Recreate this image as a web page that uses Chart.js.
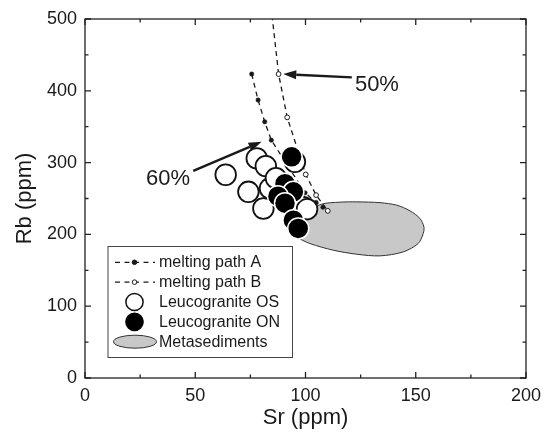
<!DOCTYPE html>
<html>
<head>
<meta charset="utf-8">
<script src="https://cdn.jsdelivr.net/npm/chart.js@4.4.1/dist/chart.umd.min.js"></script>
<style>
  html, body { margin: 0; padding: 0; background: #fff; }
  canvas { display: block; }
</style>
</head>
<body>
<canvas id="chart" width="545" height="439"></canvas>
<script>
// Sr (x) and Rb (y) values, ppm
const pathASr = [75.6, 78.5, 81.5, 84.5, 99.8, 104.8, 107.9];
const pathARb = [423.3, 387.1, 356.8, 331.3, 257.9, 244.5, 237.9];

const pathBSr = [83.0, 87.8, 91.7, 100.1, 104.8, 110.1];
const pathBRb = [555, 423.3, 363.0, 283.5, 254.7, 232.8];

const osSr = [63.8, 77.9, 82.0, 74.1, 80.9, 83.9, 86.6, 95.2, 96.7, 98.9, 100.7];
const osRb = [283.1, 305.8, 295.1, 259.3, 236.1, 264.0, 278.4, 301.1, 240.7, 237.9, 235.1];

const onSr = [93.7, 90.7, 94.5, 87.5, 90.7, 94.5, 96.7];
const onRb = [308.1, 270.7, 259.3, 253.3, 243.5, 219.8, 208.3];

// outline of the metasediment field
const metaSr = [96.1, 101.1, 107.3, 115.6, 123.2, 133.8, 141.4, 147.4, 151.9, 153.7, 153.4, 151.1, 144.3, 133.8, 123.2, 112.6, 102.0, 96.0, 93.0];
const metaRb = [211.4, 230.9, 242.1, 244.9, 245.3, 244.2, 240.7, 232.8, 222.2, 210.5, 201.3, 187.3, 175.6, 170.1, 172.4, 178.0, 187.3, 196.5, 205.9];

const xTicks = [0, 50, 100, 150, 200];
const yTicks = [0, 100, 200, 300, 400, 500];

// degree-of-melting labels with their arrows (data units)
const noteText = ['50%', '60%'];
const noteFrom = [[121.0, 418.7], [49.1, 288.5]];
const noteTo = [[89.9, 423.3], [80.1, 329.0]];
const noteAt = [[122.4, 408.0], [47.6, 277.0]];
const noteAlign = ['left', 'right'];

const FONT = '"Liberation Sans", Arial, Helvetica, sans-serif';
const INK = '#1a1a1a';

const zip = (xs, ys) => xs.map((v, i) => ({ x: v, y: ys[i] }));
const closed = (pts) => pts.concat([pts[0]]);

const frameTicks = {
  id: 'frameTicks',
  afterDatasetsDraw(chart) {
    const { ctx, chartArea: a, scales: { x, y } } = chart;
    ctx.save();
    ctx.strokeStyle = '#222';
    ctx.lineWidth = 1.3;
    ctx.strokeRect(a.left, a.top, a.right - a.left, a.bottom - a.top);
    const major = 6, minor = 3.5;
    const xs = [];
    xTicks.forEach((v, i) => {
      xs.push([v, major]);
      if (i < xTicks.length - 1) xs.push([(v + xTicks[i + 1]) / 2, minor]);
    });
    const ys = [];
    yTicks.forEach((v, i) => {
      ys.push([v, major]);
      if (i < yTicks.length - 1) ys.push([(v + yTicks[i + 1]) / 2, minor]);
    });
    ctx.beginPath();
    xs.forEach(([v, len]) => {
      const p = x.getPixelForValue(v);
      ctx.moveTo(p, a.bottom); ctx.lineTo(p, a.bottom - len);
      ctx.moveTo(p, a.top); ctx.lineTo(p, a.top + len);
    });
    ys.forEach(([v, len]) => {
      const p = y.getPixelForValue(v);
      ctx.moveTo(a.left, p); ctx.lineTo(a.left + len, p);
      ctx.moveTo(a.right, p); ctx.lineTo(a.right - len, p);
    });
    ctx.stroke();
    ctx.restore();
  }
};

const notes = {
  id: 'notes',
  afterDatasetsDraw(chart) {
    const { ctx, scales: { x, y } } = chart;
    ctx.save();
    ctx.strokeStyle = INK;
    ctx.fillStyle = INK;
    noteText.forEach((t, i) => {
      const x0 = x.getPixelForValue(noteFrom[i][0]), y0 = y.getPixelForValue(noteFrom[i][1]);
      const x1 = x.getPixelForValue(noteTo[i][0]), y1 = y.getPixelForValue(noteTo[i][1]);
      const ang = Math.atan2(y1 - y0, x1 - x0);
      const headLen = 13, headHalf = 4.5;
      const bx = x1 - headLen * Math.cos(ang), by = y1 - headLen * Math.sin(ang);
      ctx.lineWidth = 2.4;
      ctx.beginPath();
      ctx.moveTo(x0, y0); ctx.lineTo(bx, by);
      ctx.stroke();
      ctx.beginPath();
      ctx.moveTo(x1, y1);
      ctx.lineTo(bx + headHalf * Math.sin(ang), by - headHalf * Math.cos(ang));
      ctx.lineTo(bx - headHalf * Math.sin(ang), by + headHalf * Math.cos(ang));
      ctx.closePath();
      ctx.fill();
      ctx.font = '22px ' + FONT;
      ctx.textAlign = noteAlign[i];
      ctx.textBaseline = 'middle';
      ctx.fillText(t, x.getPixelForValue(noteAt[i][0]), y.getPixelForValue(noteAt[i][1]));
    });
    ctx.restore();
  }
};

const keyBox = {
  id: 'keyBox',
  afterDatasetsDraw(chart) {
    const { ctx, chartArea: a } = chart;
    const left = a.left + 22.5, top = a.top + 227, w = 184.5, h = 111;
    ctx.save();
    ctx.fillStyle = '#fff';
    ctx.fillRect(left, top, w, h);
    ctx.strokeStyle = '#444';
    ctx.lineWidth = 1;
    ctx.strokeRect(left + 0.5, top + 0.5, w, h);
    const cx = left + 27, tx = left + 51.5;
    chart.data.datasets.forEach((ds, i) => {
      const cy = top + 16.3 + i * 19.85;
      ctx.save();
      if (ds.key === 'path') {
        ctx.strokeStyle = ds.borderColor;
        ctx.lineWidth = ds.borderWidth;
        ctx.setLineDash([5, 4.5]);
        ctx.beginPath();
        ctx.moveTo(left + 7.5, cy); ctx.lineTo(left + 47.5, cy);
        ctx.stroke();
        ctx.setLineDash([]);
        ctx.beginPath();
        ctx.arc(cx, cy, 2.3, 0, Math.PI * 2);
        ctx.fillStyle = ds.pointBackgroundColor;
        ctx.fill();
        ctx.lineWidth = 1;
        ctx.strokeStyle = ds.pointBorderColor;
        ctx.stroke();
      } else if (ds.key === 'dot') {
        ctx.beginPath();
        ctx.arc(cx, cy, 8.6, 0, Math.PI * 2);
        ctx.fillStyle = ds.pointBackgroundColor;
        ctx.fill();
        ctx.lineWidth = 1.5;
        ctx.strokeStyle = ds.pointBackgroundColor === '#000' ? '#000' : ds.pointBorderColor;
        ctx.stroke();
      } else {
        ctx.beginPath();
        ctx.ellipse(cx + 0.5, cy, 21.5, 6.5, 0, 0, Math.PI * 2);
        ctx.fillStyle = ds.backgroundColor;
        ctx.fill();
        ctx.lineWidth = 1;
        ctx.strokeStyle = ds.borderColor;
        ctx.stroke();
      }
      ctx.restore();
      ctx.fillStyle = INK;
      ctx.font = '16px ' + FONT;
      ctx.textAlign = 'left';
      ctx.textBaseline = 'middle';
      ctx.fillText(ds.label, tx, cy + 0.5);
    });
    ctx.restore();
  }
};

new Chart(document.getElementById('chart'), {
  type: 'scatter',
  data: {
    datasets: [
      {
        key: 'path', label: 'melting path A', data: zip(pathASr, pathARb),
        showLine: true, borderColor: INK, borderWidth: 1.3, borderDash: [5, 4],
        pointRadius: 2.2, pointBackgroundColor: INK, pointBorderColor: INK, pointBorderWidth: 0.5,
        order: 3
      },
      {
        key: 'path', label: 'melting path B', data: zip(pathBSr, pathBRb),
        showLine: true, borderColor: INK, borderWidth: 1.3, borderDash: [5, 4],
        pointRadius: (c) => (c.raw && c.raw.y > 500 ? 0 : 2.4),
        pointBackgroundColor: '#fff', pointBorderColor: INK, pointBorderWidth: 1,
        order: 3
      },
      {
        key: 'dot', label: 'Leucogranite OS', data: zip(osSr, osRb),
        pointRadius: 10.3, pointBackgroundColor: '#fff', pointBorderColor: '#111', pointBorderWidth: 1.8,
        order: 2
      },
      {
        key: 'dot', label: 'Leucogranite ON', data: zip(onSr, onRb),
        pointRadius: 10.5, pointBackgroundColor: '#000', pointBorderColor: '#fff', pointBorderWidth: 1.5,
        order: 1
      },
      {
        key: 'field', label: 'Metasediments', type: 'line', data: closed(zip(metaSr, metaRb)),
        fill: 'shape', backgroundColor: '#c8c8c8', borderColor: '#333', borderWidth: 1,
        pointRadius: 0, tension: 0.3, order: 4
      }
    ]
  },
  options: {
    responsive: false,
    animation: false,
    events: [],
    layout: { padding: { left: 0, top: 19, right: 19, bottom: 0 } },
    plugins: { legend: { display: false }, tooltip: { enabled: false } },
    scales: {
      x: {
        type: 'linear', min: 0, max: 200,
        afterBuildTicks: (s) => { s.ticks = xTicks.map((v) => ({ value: v })); },
        afterFit: (s) => { s.height = 61; s.paddingLeft = 0; s.paddingRight = 0; },
        grid: { display: false, drawTicks: false },
        border: { display: false },
        ticks: { color: INK, font: { family: FONT, size: 18 }, padding: 7, maxRotation: 0 },
        title: { display: true, text: 'Sr (ppm)', color: INK, font: { family: FONT, size: 22 }, padding: { top: 0, bottom: 8 } }
      },
      y: {
        type: 'linear', min: 0, max: 500,
        afterBuildTicks: (s) => { s.ticks = yTicks.map((v) => ({ value: v })); },
        afterFit: (s) => { s.width = 85; s.paddingTop = 0; s.paddingBottom = 0; },
        grid: { display: false, drawTicks: false },
        border: { display: false },
        ticks: { color: INK, font: { family: FONT, size: 18 }, padding: 8 },
        title: { display: true, text: 'Rb (ppm)', color: INK, font: { family: FONT, size: 22 }, padding: { top: 12, bottom: 0 } }
      }
    }
  },
  plugins: [frameTicks, notes, keyBox]
});
</script>
</body>
</html>
